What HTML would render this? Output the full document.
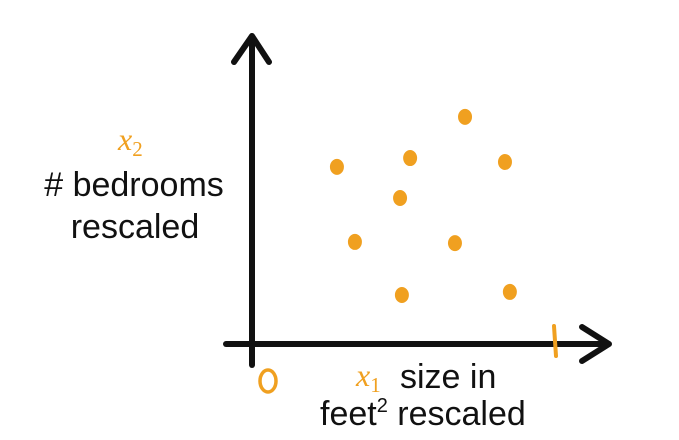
<!DOCTYPE html>
<html><head><meta charset="utf-8"><style>
body{margin:0;background:#fff;}
svg{display:block;}
.t{font-family:"Liberation Sans",sans-serif;font-size:34px;fill:#111;}
.o{font-family:"Liberation Serif",serif;font-style:italic;font-size:32px;fill:#f0a020;}
</style></head><body>
<svg width="679" height="440" viewBox="0 0 679 440">
<g id="axes">
<line x1="252" y1="365" x2="252" y2="42" stroke="#111" stroke-width="6" stroke-linecap="round"/>
<polyline points="234,62 252,36 269,62" fill="none" stroke="#111" stroke-width="6" stroke-linecap="round" stroke-linejoin="round"/>
<line x1="226" y1="344" x2="605" y2="344" stroke="#111" stroke-width="6" stroke-linecap="round"/>
<polyline points="582,327 609,344 582,361" fill="none" stroke="#111" stroke-width="6" stroke-linecap="round" stroke-linejoin="round"/>
<line x1="554" y1="326" x2="556" y2="356" stroke="#f0a020" stroke-width="4" stroke-linecap="round"/>
<ellipse cx="268" cy="381" rx="8" ry="11" fill="none" stroke="#f0a020" stroke-width="3.5"/>
</g>
<text class="o" x="118" y="150">x<tspan font-size="21" dy="6" font-style="normal">2</tspan></text>
<text class="t" x="134" y="196" text-anchor="middle"># bedrooms</text>
<text class="t" x="135" y="238" text-anchor="middle">rescaled</text>
<text class="o" x="356" y="386">x<tspan font-size="21" dy="6" font-style="normal">1</tspan></text>
<text class="t" x="400" y="388">size in</text>
<text class="t" x="320" y="425">feet<tspan font-size="20" dy="-13">2</tspan><tspan dy="13"> rescaled</tspan></text>
<g id="pts"></g>
</svg>
<script>
const xValues=[0.705,0.285,0.525,0.836,0.492,0.344,0.672,0.498,0.852];
const yValues=[0.748,0.584,0.613,0.600,0.482,0.338,0.334,0.164,0.174];
function sx(v){return 250+v*305;}
function sy(v){return 345-v*305;}
const g=document.getElementById('pts');
for(let i=0;i<xValues.length;i++){
  const e=document.createElementNS('http://www.w3.org/2000/svg','ellipse');
  e.setAttribute('cx',sx(xValues[i]));
  e.setAttribute('cy',sy(yValues[i]));
  e.setAttribute('rx',7);
  e.setAttribute('ry',8);
  e.setAttribute('fill','#f0a020');
  
  
  g.appendChild(e);
}
</script>
</body></html>
